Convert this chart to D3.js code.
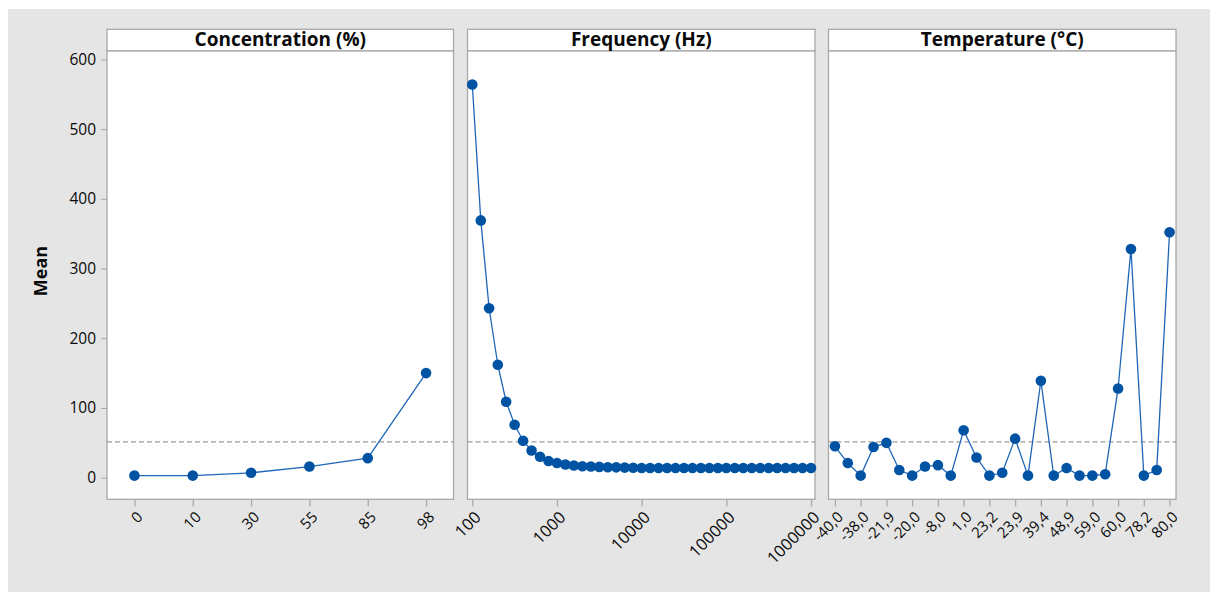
<!DOCTYPE html>
<html>
<head>
<meta charset="utf-8">
<script src="https://cdn.jsdelivr.net/npm/d3@7/dist/d3.min.js"></script>
<style>
  html, body { margin: 0; padding: 0; background: #ffffff; }
  svg { display: block; font-family: "Open Sans", "Noto Sans", sans-serif; }
</style>
</head>
<body>
<svg id="chart" width="1216" height="598"></svg>
<script>
// Main effects plot: mean response for each factor level
const concentrationLevels = ["0", "10", "30", "55", "85", "98"];
const concentrationMeans = [3, 3, 7, 16, 28, 150];

const frequencyHz = [100, 126, 158, 200, 251, 316, 398, 501, 631, 794,
  1000, 1259, 1585, 1995, 2512, 3162, 3981, 5012, 6310, 7943,
  10000, 12589, 15849, 19953, 25119, 31623, 39811, 50119, 63096, 79433,
  100000, 125893, 158489, 199526, 251189, 316228, 398107, 501187, 630957, 794328,
  1000000];
const frequencyMeans = [564, 369, 243, 162, 109, 76, 53, 39, 30, 24,
  21, 19, 17.5, 16.5, 16, 15.5, 15, 14.8, 14.5, 14.3,
  14, 14, 14, 14, 14, 14, 14, 14, 14, 14,
  14, 14, 14, 14, 14, 14, 14, 14, 14, 14,
  14];
const frequencyTicks = [100, 1000, 10000, 100000, 1000000];

const temperatureLevels = ["-40,0", "-39,0", "-38,0", "-30,0", "-21,9", "-21,0", "-20,0",
  "-10,0", "-8,0", "0,0", "1,0", "20,0", "23,2", "23,5", "23,9", "25,0", "39,4",
  "40,0", "48,9", "50,0", "59,0", "59,5", "60,0", "70,0", "78,2", "79,0", "80,0"];
const temperatureMeans = [45, 21, 3, 44, 50, 11, 3, 16, 18, 3, 68, 29, 3, 7, 56, 3,
  139, 3, 14, 3, 3, 5, 128, 328, 3, 11, 352];

const grandMean = 51.5;
const yTicks = [0, 100, 200, 300, 400, 500, 600];

const svg = d3.select("#chart");
const blue = "#0052a3";
const lineBlue = "#1f66b8";
const frame = "#a8a8a8";
const ink = "#0a0a0a";

// gray backdrop
svg.append("rect").attr("x", 8).attr("y", 9).attr("width", 1202).attr("height", 583)
  .attr("fill", "#e5e5e5");

const plotTop = 51, plotBottom = 499.3, headerTop = 29.3;
const y = d3.scaleLinear().domain([-31, 612]).range([plotBottom, plotTop]);

const panels = [
  { title: "Concentration (%)", x0: 107, x1: 453.5 },
  { title: "Frequency (Hz)", x0: 467.5, x1: 815 },
  { title: "Temperature (°C)", x0: 828.5, x1: 1176 }
];

panels.forEach(p => {
  svg.append("rect").attr("x", p.x0).attr("y", headerTop)
    .attr("width", p.x1 - p.x0).attr("height", plotTop - headerTop)
    .attr("fill", "#fff").attr("stroke", frame).attr("stroke-width", 1.3);
  svg.append("rect").attr("x", p.x0).attr("y", plotTop)
    .attr("width", p.x1 - p.x0).attr("height", plotBottom - plotTop)
    .attr("fill", "#fff").attr("stroke", frame).attr("stroke-width", 1.3);
  svg.append("text").attr("x", (p.x0 + p.x1) / 2).attr("y", 45.5)
    .attr("text-anchor", "middle").attr("font-size", 19).attr("font-weight", 700)
    .attr("fill", ink).text(p.title);
  // reference line at the overall mean
  svg.append("line").attr("x1", p.x0).attr("x2", p.x1)
    .attr("y1", y(grandMean)).attr("y2", y(grandMean))
    .attr("stroke", "#9a9a9a").attr("stroke-width", 1.2).attr("stroke-dasharray", "5,3");
});

// y axis
const yAxis = svg.append("g").attr("transform", `translate(${panels[0].x0},0)`)
  .call(d3.axisLeft(y).tickValues(yTicks).tickSize(6).tickPadding(5));
yAxis.select(".domain").remove();
yAxis.selectAll(".tick line").attr("stroke", frame);
yAxis.selectAll(".tick text").attr("font-size", 15.5).attr("fill", ink)
  .attr("font-family", "Open Sans, Noto Sans, sans-serif");

svg.append("text").attr("transform", "translate(47,271) rotate(-90)")
  .attr("text-anchor", "middle").attr("font-size", 18).attr("font-weight", 700)
  .attr("fill", ink).text("Mean");

function drawXAxis(scale, ticks, fmt, fontSize) {
  const g = svg.append("g").attr("transform", `translate(0,${plotBottom})`)
    .call(d3.axisBottom(scale).tickValues(ticks).tickSize(7).tickFormat(fmt));
  g.select(".domain").remove();
  g.selectAll(".tick line").attr("stroke", frame).attr("stroke-width", 1.3);
  g.selectAll(".tick text")
    .attr("font-size", fontSize).attr("fill", ink)
    .attr("font-family", "Open Sans, Noto Sans, sans-serif")
    .attr("text-anchor", "end")
    .attr("dy", "0.35em")
    .attr("transform", "translate(5,15) rotate(-45)")
    .attr("y", 0).attr("x", 0);
}

function drawSeries(xs, ys, xScale) {
  const pts = xs.map((d, i) => [xScale(d), y(ys[i])]);
  svg.append("path").datum(pts)
    .attr("d", d3.line())
    .attr("fill", "none").attr("stroke", lineBlue).attr("stroke-width", 1.3);
  svg.append("g").selectAll("circle").data(pts).join("circle")
    .attr("cx", d => d[0]).attr("cy", d => d[1]).attr("r", 5.3)
    .attr("fill", blue);
}

// Concentration
const xC = d3.scalePoint().domain(concentrationLevels)
  .range([panels[0].x0, panels[0].x1]).padding(0.47);
drawXAxis(xC, concentrationLevels, d => d, 15);
drawSeries(concentrationLevels, concentrationMeans, xC);

// Frequency (log scale)
const xF = d3.scaleLog().domain([100, 1000000]).range([472.3, 811]);
drawXAxis(xF, frequencyTicks, d3.format("d"), 16.5);
drawSeries(frequencyHz, frequencyMeans, xF);

// Temperature: every other level is labelled
const xT = d3.scalePoint().domain(temperatureLevels)
  .range([panels[2].x0, panels[2].x1]).padding(0.5);
drawXAxis(xT, temperatureLevels.filter((d, i) => i % 2 === 0), d => d, 15);
drawSeries(temperatureLevels, temperatureMeans, xT);
</script>
</body>
</html>
